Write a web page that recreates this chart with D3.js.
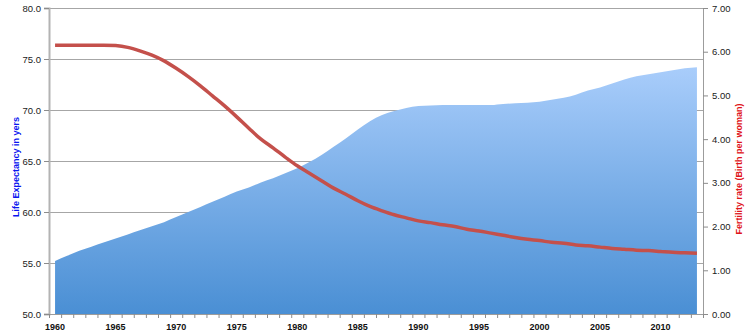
<!DOCTYPE html>
<html>
<head>
<meta charset="utf-8">
<script src="https://cdn.jsdelivr.net/npm/d3@7"></script>
<style>
  html, body { margin: 0; padding: 0; background: #fff; }
  svg { display: block; font-family: "Liberation Sans", Arial, sans-serif; }
</style>
</head>
<body>
<svg id="chart" width="753" height="336"></svg>
<script>
// Years on the category axis
const years = d3.range(1960, 2014);

// Life expectancy at birth (years), left axis
const lifeExpectancy = [
  55.2, 55.7, 56.2, 56.6, 57.0, 57.4, 57.8, 58.2, 58.6, 59.0,
  59.5, 60.0, 60.5, 61.0, 61.5, 62.0, 62.4, 62.9, 63.3, 63.8,
  64.3, 64.9, 65.6, 66.4, 67.2, 68.1, 68.9, 69.5, 69.9, 70.2,
  70.4, 70.45, 70.5, 70.5, 70.5, 70.5, 70.5, 70.6, 70.65, 70.7,
  70.8, 71.0, 71.2, 71.5, 71.9, 72.2, 72.6, 73.0, 73.3, 73.5,
  73.7, 73.9, 74.1, 74.2
];

// Fertility rate (births per woman), right axis
const fertilityRate = [
  6.15, 6.15, 6.15, 6.15, 6.15, 6.14, 6.10, 6.02, 5.92, 5.79,
  5.62, 5.43, 5.22, 4.99, 4.76, 4.51, 4.25, 4.00, 3.80, 3.59,
  3.39, 3.22, 3.05, 2.88, 2.74, 2.59, 2.46, 2.36, 2.27, 2.20,
  2.13, 2.09, 2.04, 2.00, 1.94, 1.90, 1.85, 1.80, 1.75, 1.71,
  1.68, 1.64, 1.62, 1.58, 1.56, 1.53, 1.50, 1.48, 1.46, 1.45,
  1.43, 1.41, 1.40, 1.39
];

const leftTicks = [50, 55, 60, 65, 70, 75, 80];
const rightTicks = [0, 1, 2, 3, 4, 5, 6, 7];
const yearLabels = [1960, 1965, 1970, 1975, 1980, 1985, 1990, 1995, 2000, 2005, 2010];

const leftTitle = "Life Expectancy in yers";
const rightTitle = "Fertility rate (Birth per woman)";

const svg = d3.select("#chart");
const plot = { left: 49, right: 703, top: 8, bottom: 314 };

const x = d3.scaleBand().domain(years).range([plot.left, plot.right]);
const cx = d => x(d) + x.bandwidth() / 2;
const yL = d3.scaleLinear().domain([50, 80]).range([plot.bottom, plot.top]);
const yR = d3.scaleLinear().domain([0, 7]).range([plot.bottom, plot.top]);

// Gradient fill for the area
const defs = svg.append("defs");
const grad = defs.append("linearGradient")
  .attr("id", "areaFill").attr("x1", 0).attr("y1", 0).attr("x2", 0).attr("y2", 1);
grad.append("stop").attr("offset", "0%").attr("stop-color", "#a9cdfb");
grad.append("stop").attr("offset", "100%").attr("stop-color", "#4a8fd4");

// Horizontal gridlines from the left scale
svg.append("g").selectAll("line").data(leftTicks.filter(t => t > 50)).join("line")
  .attr("x1", plot.left).attr("x2", plot.right)
  .attr("y1", d => Math.round(yL(d)) + 0.5).attr("y2", d => Math.round(yL(d)) + 0.5)
  .attr("stroke", "#a6a6a6").attr("stroke-width", 1);

// Life expectancy area
const area = d3.area()
  .x((d, i) => cx(years[i]))
  .y0(yL(50))
  .y1(d => yL(d))
  .curve(d3.curveMonotoneX);
svg.append("path").datum(lifeExpectancy)
  .attr("d", area).attr("fill", "url(#areaFill)");

// Fertility line
const line = d3.line()
  .x((d, i) => cx(years[i]))
  .y(d => yR(d))
  .curve(d3.curveMonotoneX);
svg.append("path").datum(fertilityRate)
  .attr("d", line).attr("fill", "none")
  .attr("stroke", "#c4504b").attr("stroke-width", 3.5)
  .attr("stroke-linecap", "butt").attr("stroke-linejoin", "round");

// Left axis
const gL = svg.append("g").attr("transform", `translate(${plot.left},0)`)
  .call(d3.axisLeft(yL).tickValues(leftTicks).tickSize(5).tickPadding(3).tickFormat(d3.format(".1f")));
gL.select(".domain").attr("stroke", "#b3b3b3").attr("stroke-width", 2);
gL.selectAll(".tick line").attr("stroke", "#8c8c8c");
gL.selectAll(".tick text").attr("font-size", 9.5).attr("fill", "#1a1a1a")
  .attr("font-family", "Liberation Sans, Arial, sans-serif");

// Right axis
const gR = svg.append("g").attr("transform", `translate(${plot.right},0)`)
  .call(d3.axisRight(yR).tickValues(rightTicks).tickSize(5).tickPadding(4).tickFormat(d3.format(".2f")));
gR.select(".domain").attr("stroke", "#9c9c9c").attr("stroke-width", 1);
gR.selectAll(".tick line").attr("stroke", "#8c8c8c");
gR.selectAll(".tick text").attr("font-size", 9.5).attr("fill", "#1a1a1a")
  .attr("font-family", "Liberation Sans, Arial, sans-serif");

// Bottom axis: minor marks at band edges, labels every five years
const gB = svg.append("g").attr("transform", `translate(0,${plot.bottom})`);
gB.append("line").attr("x1", plot.left).attr("x2", plot.right)
  .attr("y1", 0.5).attr("y2", 0.5).attr("stroke", "#9c9c9c");
gB.selectAll("line.minor").data(years.concat([null])).join("line").attr("class", "minor")
  .attr("x1", d => (d === null ? plot.right : x(d)) + 0.5)
  .attr("x2", d => (d === null ? plot.right : x(d)) + 0.5)
  .attr("y1", 0).attr("y2", 4).attr("stroke", "#8c8c8c");
gB.selectAll("text").data(yearLabels).join("text")
  .attr("x", d => cx(d)).attr("y", 16)
  .attr("text-anchor", "middle").attr("font-size", 9).attr("font-weight", "bold")
  .attr("fill", "#111").text(d => d);

// Axis titles
svg.append("text")
  .attr("transform", `translate(19,${(plot.top + plot.bottom) / 2 + 6}) rotate(-90)`)
  .attr("text-anchor", "middle").attr("font-size", 9).attr("font-weight", "bold")
  .attr("fill", "#0a14f0").text(leftTitle);
svg.append("text")
  .attr("transform", `translate(742,${(plot.top + plot.bottom) / 2 + 8}) rotate(-90)`)
  .attr("text-anchor", "middle").attr("font-size", 9).attr("font-weight", "bold")
  .attr("fill", "#e0141a").text(rightTitle);
</script>
</body>
</html>
